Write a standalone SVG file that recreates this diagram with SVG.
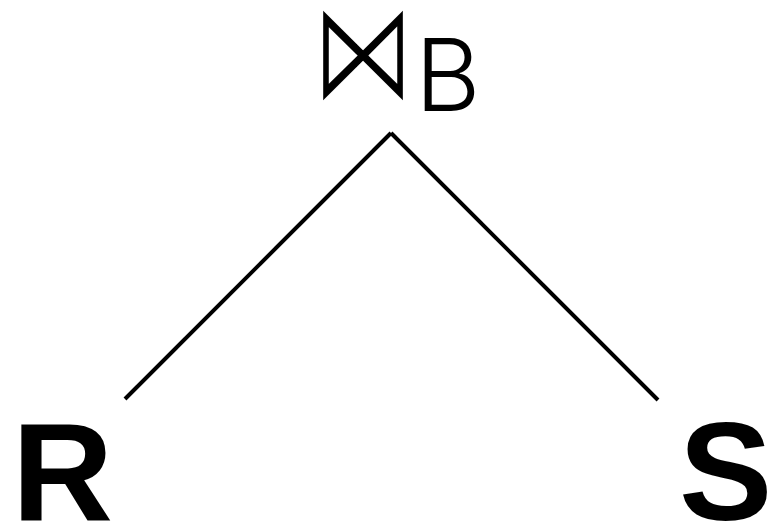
<svg xmlns="http://www.w3.org/2000/svg" width="769" height="528" viewBox="0 0 769 528">
<style>
.edge{stroke:#000;stroke-width:4;fill:none;stroke-linecap:butt}
.leaf{font-family:"Liberation Sans",Arial,sans-serif;font-weight:bold;font-size:140px;fill:#000}
.op{font-family:"DejaVu Sans",sans-serif;font-size:142px;fill:#000;stroke:#fff;stroke-width:4.1;stroke-linejoin:miter}
.sub{font-family:Inter,"Liberation Sans",sans-serif;font-weight:300;font-size:101px;fill:#000}
</style>
<rect width="769" height="528" fill="#fff"/>
<g id="connectors">
<line class="edge" x1="391" y1="133" x2="125" y2="399"/>
<line class="edge" x1="391" y1="133" x2="658" y2="400"/>
</g>
<g id="join">
<text class="op" x="0" y="0" text-anchor="middle" transform="translate(363,99.5) scale(0.74,1)">⋈</text>
<text class="sub" x="415" y="111">B</text>
</g>
<g id="R"><text class="leaf" x="12" y="520">R</text></g>
<g id="S"><text class="leaf" x="679" y="520">S</text></g>
</svg>
